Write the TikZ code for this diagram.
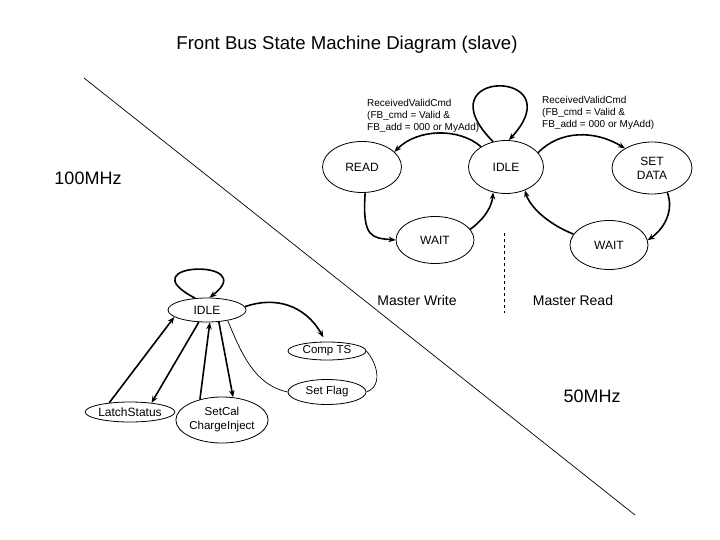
\documentclass[tikz,border=0pt]{standalone}
\usepackage{fontspec}
\setmainfont{Liberation Sans}
\usetikzlibrary{shapes.geometric,arrows.meta}
\tikzset{
  st/.style={ellipse,draw,line width=0.8pt,inner sep=0pt,font=\fontsize{12}{14}\selectfont,align=center},
  tr/.style={line width=1.6pt,-{Stealth[length=7pt,width=5.5pt]}},
  thin/.style={line width=0.7pt},
  lbl/.style={font=\fontsize{10}{12.2}\selectfont,align=left,inner sep=0pt,anchor=north west},
  big/.style={font=\fontsize{18}{20}\selectfont,inner sep=0pt},
  mid/.style={font=\fontsize{14}{16}\selectfont,inner sep=0pt}
}
\begin{document}
\begin{tikzpicture}[x=1pt,y=1pt]
\useasboundingbox (0,0) rectangle (720,-540);
% title and regions
\node[big,font=\fontsize{18.6}{20}\selectfont] (title) at (347,-45) {Front Bus State Machine Diagram (slave)};
\coordinate (d1) at (84,-78);
\coordinate (d2) at (635,-515);
\draw[line width=0.7pt] (d1) -- (d2);
\node[big] (f100) at (88,-178) {100MHz};
\node[big] (f50) at (592,-396) {50MHz};
\coordinate (v1) at (504,-233);
\coordinate (v2) at (504,-313);
\draw[thin,dashed] (v1) -- (v2);
\node[mid] (mw) at (417,-300) {Master Write};
\node[mid] (mr) at (573,-300) {Master Read};
% upper states
\node[st,minimum width=79pt,minimum height=51pt] (read) at (362,-167) {READ};
\node[st,minimum width=75pt,minimum height=53pt] (idT) at (506,-167) {IDLE};
\node[st,minimum width=80pt,minimum height=52pt] (set) at (652,-168) {SET\\DATA};
\node[st,minimum width=78pt,minimum height=47pt] (waitL) at (435,-240) {WAIT};
\node[st,minimum width=78pt,minimum height=49pt] (waitR) at (609,-245) {WAIT};
\node[lbl] (l1) at (367,-99) {ReceivedValidCmd\\(FB\_cmd = Valid \&\\FB\_add = 000 or MyAdd)};
\node[lbl] (l2) at (542,-96) {ReceivedValidCmd\\(FB\_cmd = Valid \&\\FB\_add = 000 or MyAdd)};
\draw[tr] (idT.117) .. controls (420,-68) and (575,-68) .. (idT.84);
\draw[tr] (idT.141) .. controls (460,-128) and (418,-128) .. (read.25);
\draw[tr] (idT.24) .. controls (560,-130) and (595,-130) .. (set.144);
\draw[tr] (read.277) .. controls (362,-238) and (372,-238) .. (waitL.west);
\draw[tr] (waitL.17) .. controls (486,-218) and (492,-205) .. (idT.243);
\draw[tr] (waitR.163) .. controls (548,-224) and (530,-207) .. (idT.309);
\draw[tr] (set.302) .. controls (674,-210) and (665,-228) .. (waitR.7);
% lower states
\node[st,minimum width=78pt,minimum height=24pt] (idL) at (207,-310) {IDLE};
\node[st,minimum width=79pt,minimum height=20pt] (latch) at (130,-412) {LatchStatus};
\node[st,minimum width=71pt,minimum height=46pt,font=\fontsize{11.5}{14}\selectfont] (setcal) at (222,-420) {SetCal\\ChargeInject};
\node[st,minimum width=78pt,minimum height=18pt,font=\fontsize{11.5}{14}\selectfont] (comp) at (327,-351) {Comp TS};
\node[st,minimum width=78pt,minimum height=25pt,font=\fontsize{11.5}{14}\selectfont] (flag) at (327,-392) {Set Flag};
\draw[tr] (idL.135) .. controls (125,-262) and (262,-258) .. (idL.79);
\draw[tr] (latch.156) -- (idL.192);
\draw[tr] (idL.236) -- (latch.23);
\draw[tr] (setcal.137) -- (idL.283);
\draw[tr] (idL.315) -- (setcal.64);
\draw[tr,shorten >=5pt] (idL.5) .. controls (275,-296) and (305,-305) .. (comp.97);
\draw[thin] (idL.333) .. controls (242,-355) and (255,-385) .. (flag.west);
\draw[thin] (comp.east) .. controls (375,-360) and (385,-385) .. (flag.east);
\end{tikzpicture}
\end{document}
